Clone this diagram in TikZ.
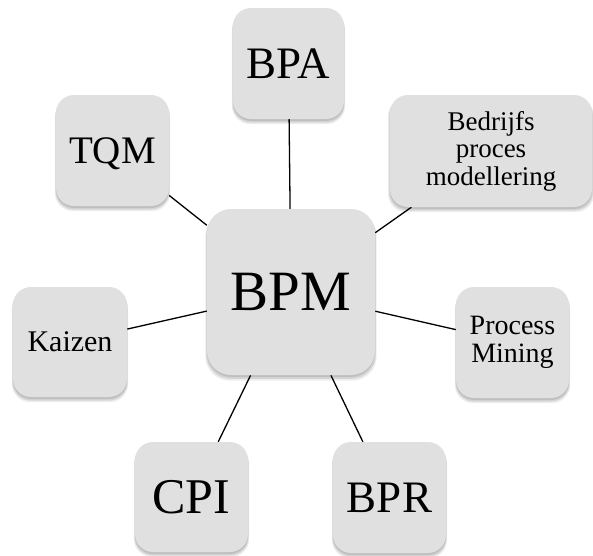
\documentclass[tikz,border=0pt]{standalone}
\usepackage{fontspec}
\setmainfont{Liberation Serif}
\usetikzlibrary{shadows,backgrounds}
\definecolor{boxgray}{RGB}{224,224,224}
\tikzset{
  softshadow/.style={
    general shadow={shadow yshift=-2pt, fill=black, opacity=0.10},
    general shadow={shadow yshift=-3pt, fill=black, opacity=0.10, shadow scale=1.01},
    general shadow={shadow yshift=-4pt, fill=black, opacity=0.07, shadow scale=1.02}},
  box/.style={softshadow, fill=boxgray, draw=none, rounded corners=18pt,
    inner sep=0pt, minimum width=113pt, minimum height=111pt, align=center},
  oneline/.style={text depth=0pt},
  link/.style={draw=black, line width=1.3pt}
}
\begin{document}
\begin{tikzpicture}[x=1pt,y=-1pt]
\useasboundingbox (0,0) rectangle (593,555);
\node[box, oneline, minimum width=168pt, minimum height=166pt, rounded corners=24pt,
  font=\fontsize{57}{60}\selectfont] (bpm) at (291,292) {BPM};
\node[box, oneline, minimum width=111pt, font=\fontsize{45}{48}\selectfont] (bpa) at (288.5,63.5) {BPA};
\node[box, oneline, font=\fontsize{39}{42}\selectfont] (tqm) at (112.5,150.5) {TQM};
\node[box, minimum width=202pt, minimum height=112pt, font=\fontsize{27}{27.5}\selectfont] (bpmod) at (491,151) {Bedrijfs\\proces\\modellering};
\node[box, oneline, minimum width=114pt, minimum height=110pt, font=\fontsize{30}{32}\selectfont] (kaizen) at (70,342) {Kaizen};
\node[box, font=\fontsize{28}{28}\selectfont] (pm) at (512.5,342.5) {Process\\Mining};
\node[box, oneline, minimum height=110pt, font=\fontsize{50}{54}\selectfont] (cpi) at (191.5,497) {CPI};
\node[box, oneline, font=\fontsize{45}{48}\selectfont] (bpr) at (389.5,497.5) {BPR};
\begin{pgfonlayer}{background}
\draw[link] (bpm) -- (bpa);
\draw[link] (bpm) -- (tqm);
\draw[link] (bpm) -- (bpmod);
\draw[link] (bpm) -- (kaizen);
\draw[link] (bpm) -- (pm);
\draw[link] (bpm) -- (cpi);
\draw[link] (bpm) -- (bpr);
\end{pgfonlayer}
\end{tikzpicture}
\end{document}
